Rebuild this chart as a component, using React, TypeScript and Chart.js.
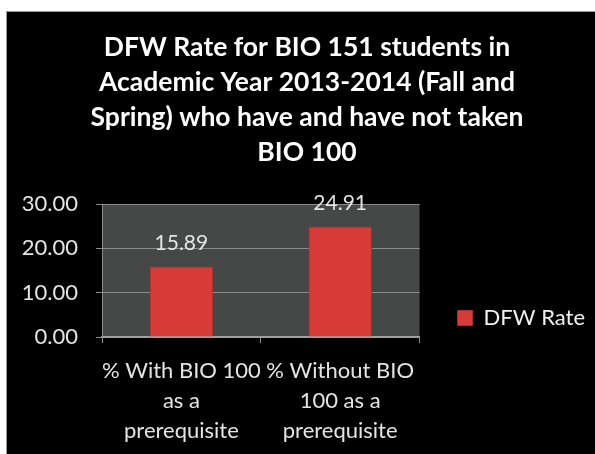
import React, { useEffect, useRef } from "react";
import { Chart, registerables } from "chart.js";

Chart.register(...registerables);

const titleLines = [
  "DFW Rate for BIO 151 students in",
  "Academic Year 2013-2014 (Fall and",
  "Spring) who have and have not taken",
  "BIO 100",
];
const categories = [
  ["% With BIO 100", "as a", "prerequisite"],
  ["% Without BIO", "100 as a", "prerequisite"],
];
const seriesName = "DFW Rate";
const dfwRate = [15.89, 24.91];
const yTicks = [0, 10, 20, 30];

const FONT = "Lato, 'Open Sans', sans-serif";

export default function App() {
  const ref = useRef<HTMLCanvasElement>(null);

  useEffect(() => {
    const plotBg = {
      id: "plotBg",
      beforeDraw(chart: any) {
        const { ctx, chartArea } = chart;
        ctx.save();
        ctx.fillStyle = "#464848";
        ctx.fillRect(chartArea.left, chartArea.top, chartArea.width, chartArea.height);
        ctx.restore();
      },
    };
    const valueLabels = {
      id: "valueLabels",
      afterDatasetsDraw(chart: any) {
        const ctx = chart.ctx;
        const meta = chart.getDatasetMeta(0);
        ctx.save();
        ctx.font = `21px ${FONT}`;
        ctx.fillStyle = "#e4e4e4";
        ctx.textAlign = "center";
        ctx.textBaseline = "middle";
        meta.data.forEach((bar: any, i: number) => {
          ctx.fillText(dfwRate[i].toFixed(2), bar.x, bar.y - 23);
        });
        ctx.restore();
      },
    };

    const chart = new Chart(ref.current as HTMLCanvasElement, {
      type: "bar",
      data: {
        labels: categories,
        datasets: [
          {
            label: seriesName,
            data: dfwRate,
            backgroundColor: "#d83b38",
            borderColor: "#a8302c",
            borderWidth: 1,
            barPercentage: 0.4,
            categoryPercentage: 1,
          },
        ],
      },
      options: {
        responsive: false,
        animation: false,
        layout: { padding: { left: 12, right: 0, top: 0, bottom: 0 } },
        plugins: {
          title: {
            display: true,
            text: titleLines,
            color: "#ffffff",
            font: { family: FONT, size: 26.5, weight: "bold", lineHeight: 35 / 26.5 },
            padding: { top: 18, bottom: 34 },
          },
          legend: {
            position: "right",
            align: "end",
            fullSize: false,
            maxWidth: 147,
            labels: {
              color: "#f0f0f0",
              font: { family: FONT, size: 22 },
              boxWidth: 15,
              boxHeight: 15,
              padding: 8,
            },
          },
          tooltip: { enabled: false },
        },
        scales: {
          x: {
            grid: {
              display: true,
              drawOnChartArea: false,
              offset: true,
              tickLength: 6,
              color: "#8c8c8c",
            },
            border: { color: "#a0a0a0", width: 2 },
            ticks: {
              color: "#e4e4e4",
              font: { family: FONT, size: 22, lineHeight: 30 / 22 },
              padding: 13,
              maxRotation: 0,
              minRotation: 0,
              autoSkip: false,
            },
            afterFit(s: any) {
              s.height = 117;
            },
          },
          y: {
            min: 0,
            max: 30,
            afterBuildTicks(s: any) {
              s.ticks = yTicks.map((v) => ({ value: v }));
            },
            ticks: {
              color: "#e4e4e4",
              font: { family: FONT, size: 22 },
              padding: 18,
              callback: (v: any) => Number(v).toFixed(2),
            },
            grid: { color: "#8c8c8c", tickLength: 6 },
            border: { color: "#8c8c8c" },
            afterFit(s: any) {
              s.width = 83;
            },
          },
          y2: {
            type: "linear",
            position: "right",
            display: true,
            grid: { display: false },
            border: { display: false },
            ticks: { display: false },
            afterFit(s: any) {
              s.width = 30;
            },
          },
        },
      } as any,
      plugins: [plotBg, valueLabels],
    });
    return () => chart.destroy();
  }, []);

  return (
    <div
      style={{
        position: "absolute",
        left: 0,
        top: 0,
        width: 595,
        height: 454,
        background: "#ffffff",
        overflow: "hidden",
      }}
    >
      <div
        style={{
          position: "absolute",
          left: 6,
          top: 11,
          width: 589,
          height: 443,
          background: "#000000",
          borderTop: "1px solid #9a9a9a",
          borderLeft: "1px solid #9a9a9a",
          boxSizing: "border-box",
        }}
      />
      <canvas
        ref={ref}
        width={588}
        height={442}
        style={{ position: "absolute", left: 7, top: 12, width: 588, height: 442 }}
      />
    </div>
  );
}
